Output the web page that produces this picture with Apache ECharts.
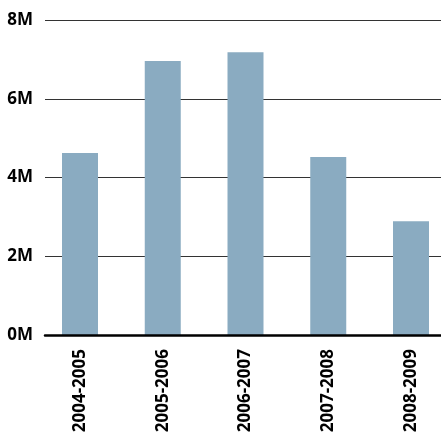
<!DOCTYPE html>
<html>
<head>
<meta charset="utf-8">
<script src="https://cdn.jsdelivr.net/npm/echarts@6/dist/echarts.min.js"></script>
<style>html,body{margin:0;padding:0;background:#fff;}#c{width:441px;height:439px;}</style>
</head>
<body>
<div id="c"></div>
<script>
var categories = ['2004-2005', '2005-2006', '2006-2007', '2007-2008', '2008-2009'];
var values = [4620000, 6960000, 7180000, 4520000, 2890000];
var yTicks = [0, 2000000, 4000000, 6000000, 8000000];

var chart = echarts.init(document.getElementById('c'));
var font = '"Open Sans", sans-serif';
chart.setOption({
  animation: false,
  grid: [
    { left: 45, right: 0, top: 20, bottom: 104 },
    { left: 80, right: 30, top: 20, bottom: 104 }
  ],
  xAxis: [
    { type: 'category', gridIndex: 0, data: categories,
      axisLine: { show: true, lineStyle: { color: '#000', width: 2.5 } },
      axisTick: { show: false }, axisLabel: { show: false }, z: 10 },
    { type: 'category', gridIndex: 1, data: categories, boundaryGap: false,
      axisLine: { show: false }, axisTick: { show: false },
      axisLabel: { rotate: 90, margin: 14, color: '#000', fontFamily: font, fontWeight: 'bold', fontSize: 17 } }
  ],
  yAxis: [
    { type: 'value', gridIndex: 0, min: yTicks[0], max: yTicks[yTicks.length - 1], interval: 2000000,
      axisLine: { show: false }, axisTick: { show: false },
      splitLine: { lineStyle: { color: '#333', width: 1 } },
      axisLabel: { margin: 12, color: '#000', fontFamily: font, fontWeight: 'bold', fontSize: 17,
        formatter: function (v) { return (v / 1000000) + 'M'; } } },
    { type: 'value', gridIndex: 1, min: yTicks[0], max: yTicks[yTicks.length - 1], show: false }
  ],
  series: [{
    type: 'bar', xAxisIndex: 1, yAxisIndex: 1, data: values, barWidth: 36, clip: false,
    itemStyle: { color: '#8AABC1' }
  }]
});
</script>
</body>
</html>
